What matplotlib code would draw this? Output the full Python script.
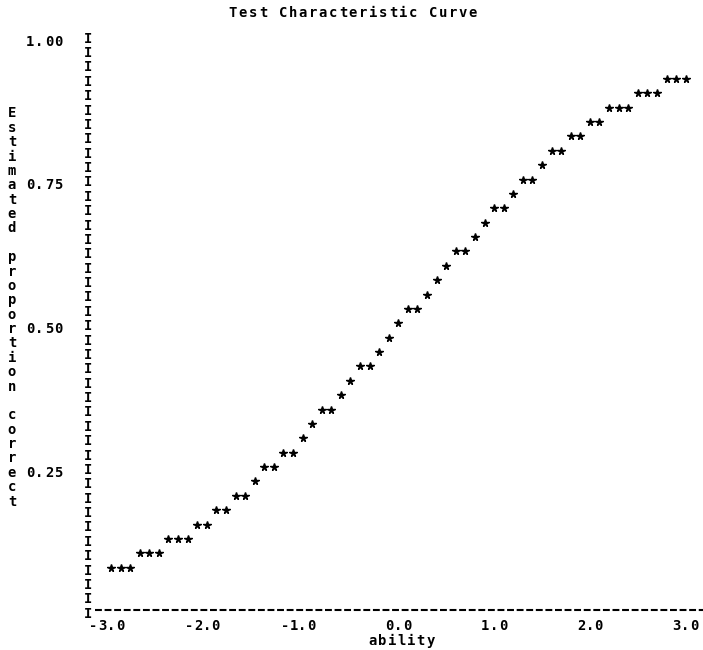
import matplotlib
matplotlib.use("Agg")
import matplotlib.pyplot as plt

# Test characteristic curve, line printer style output
# proportion correct for each printed row, and the ability values with a '*' on that row
proportion = [0.075, 0.100, 0.125, 0.150, 0.175, 0.200, 0.225, 0.250, 0.275, 0.300,
              0.325, 0.350, 0.375, 0.400, 0.425, 0.450, 0.475, 0.500, 0.525, 0.550,
              0.575, 0.600, 0.625, 0.650, 0.675, 0.700, 0.725, 0.750, 0.775, 0.800,
              0.825, 0.850, 0.875, 0.900, 0.925]
ability_rows = [[-3.0, -2.9, -2.8], [-2.7, -2.6, -2.5], [-2.4, -2.3, -2.2], [-2.1, -2.0],
                [-1.9, -1.8], [-1.7, -1.6], [-1.5], [-1.4, -1.3], [-1.2, -1.1], [-1.0],
                [-0.9], [-0.8, -0.7], [-0.6], [-0.5], [-0.4, -0.3], [-0.2], [-0.1],
                [0.0], [0.1, 0.2], [0.3], [0.4], [0.5], [0.6, 0.7], [0.8], [0.9],
                [1.0, 1.1], [1.2], [1.3, 1.4], [1.5], [1.6, 1.7], [1.8, 1.9],
                [2.0, 2.1], [2.2, 2.3, 2.4], [2.5, 2.6, 2.7], [2.8, 2.9, 3.0]]

x_ticks = [-3.0, -2.0, -1.0, 0.0, 1.0, 2.0, 3.0]
x_ticklabels = ['-3.0', '-2.0', '-1.0', '0.0', '1.0', '2.0', '3.0']
y_ticks = [1.00, 0.75, 0.50, 0.25]
y_ticklabels = ['1.00', '0.75', '0.50', '0.25']

title = 'Test Characteristic Curve'
xlabel = 'ability'
ylabel = 'Estimated proportion correct'

FONT = dict(family='DejaVu Sans Mono', fontweight='bold', fontsize=10, color='black')
PX = 0.1 / 9.578     # data units of x per pixel (one printer column = 0.1)
ROW = 0.025          # one printer line
TXT_DY = -0.010      # text sits a little lower than the '*' marks


def put(s, x_first, y, pitch=0.1):
    # print a string one character at a time, fixed pitch like a line printer
    for i, ch in enumerate(s):
        if ch != ' ':
            ax.text(x_first + i * pitch, y, ch, ha='center', va='center', **FONT)


fig = plt.figure(figsize=(7.03, 6.5), dpi=100)
ax = fig.add_axes([0, 0, 1, 1])
ax.set_xlim(-4.159, 3.181)
ax.set_ylim(-0.0682, 1.0623)
ax.axis('off')

# the curve
xs, ys = [], []
for p, row in zip(proportion, ability_rows):
    for a in row:
        xs.append(a)
        ys.append(p)
ax.plot(xs, ys, ls='none', marker='*', ms=5.5, color='black', mec='black')

# vertical axis made of I's
y_axis_x = -3.0 - 23 * PX
n_rows = int(round(1.0 / ROW))
for k in range(n_rows + 1):
    put('I', y_axis_x, k * ROW - 0.005)

# horizontal axis dashes
ax.plot([-3.0 - 16 * PX, 3.181], [0.001, 0.001], color='black', lw=1.5,
        dashes=(3.3, 1.3), solid_capstyle='butt', dash_capstyle='butt')

# x tick labels, the '.' sits under the tick
for t, lab in zip(x_ticks, x_ticklabels):
    dot = lab.index('.')
    put(lab, t - dot * 0.1 * 0.92, -0.027, pitch=0.1 * 0.92)

# y tick labels
for t, lab in zip(y_ticks, y_ticklabels):
    put(lab, -3.0 - 81 * PX, t + TXT_DY)

# axis titles
put(xlabel, -3.0 + 262 * PX, -0.053)
for k, ch in enumerate(ylabel):
    if ch != ' ':
        ax.text(-3.0 - 99 * PX, 1.0 - (5 + k) * ROW + TXT_DY, ch,
                ha='center', va='center', **FONT)

put(title, -3.0 + 122 * PX, 1.0397, pitch=10 * PX)

fig.savefig('out.png', dpi=100, facecolor='white')
